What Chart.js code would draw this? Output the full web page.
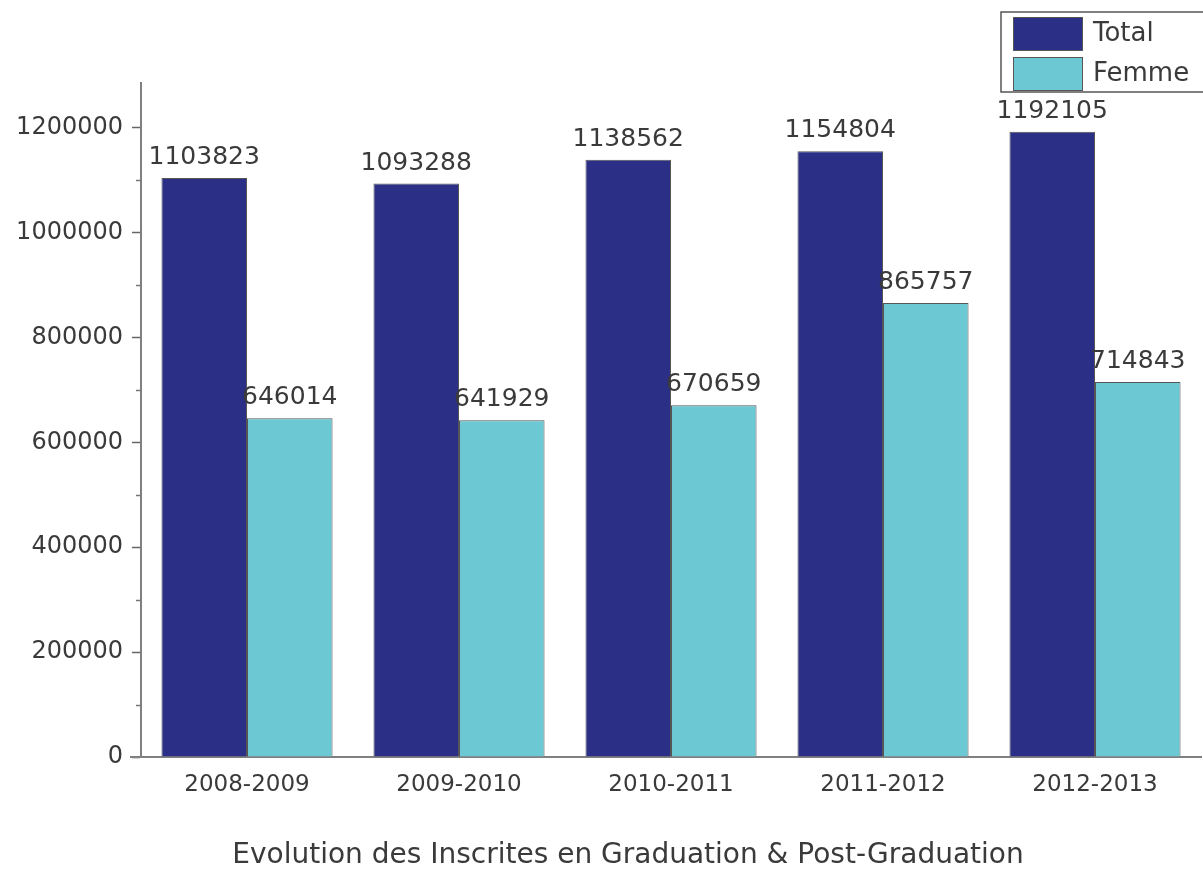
<!DOCTYPE html>
<html>
<head>
<meta charset="utf-8">
<script src="https://cdn.jsdelivr.net/npm/chart.js@4"></script>
<style>
  html, body { margin: 0; padding: 0; background: #fff; }
  #wrap { width: 1203px; height: 870px; }
</style>
</head>
<body>
<div id="wrap"><canvas id="myChart" width="1203" height="870"></canvas></div>
<script>
var years = ['2008-2009', '2009-2010', '2010-2011', '2011-2012', '2012-2013'];
var totalValues = [1103823, 1093288, 1138562, 1154804, 1192105];
var femmeValues = [646014, 641929, 670659, 865757, 714843];
var yTicks = [0, 200000, 400000, 600000, 800000, 1000000, 1200000];
var xTitle = 'Evolution des Inscrites en Graduation & Post-Graduation';

var FONT = '"DejaVu Sans", sans-serif';
var TEXT = '#3a3a3a';

// value labels above bars, minor ticks, legend box, bottom title
var extras = {
  id: 'extras',
  afterDatasetsDraw: function (chart) {
    var ctx = chart.ctx;
    ctx.save();
    ctx.font = '25px ' + FONT;
    ctx.fillStyle = TEXT;
    ctx.textAlign = 'center';
    ctx.textBaseline = 'alphabetic';
    chart.data.datasets.forEach(function (ds, i) {
      chart.getDatasetMeta(i).data.forEach(function (bar, j) {
        ctx.fillText(String(ds.data[j]), bar.x, bar.y - 14);
      });
    });

    // minor ticks every 100000
    var y = chart.scales.y;
    ctx.strokeStyle = '#777';
    ctx.lineWidth = 1.5;
    for (var v = 100000; v < 1300000; v += 200000) {
      var py = Math.round(y.getPixelForValue(v)) + 0.5;
      ctx.beginPath();
      ctx.moveTo(y.right - 5, py);
      ctx.lineTo(y.right, py);
      ctx.stroke();
    }
    // x axis line runs a little left of the y axis
    var x = chart.scales.x;
    ctx.strokeStyle = '#808080';
    ctx.lineWidth = 2;
    ctx.beginPath();
    ctx.moveTo(130, x.top);
    ctx.lineTo(x.left, x.top);
    ctx.stroke();

    // legend
    ctx.fillStyle = '#fff';
    ctx.fillRect(1001, 12, 202, 80);
    ctx.strokeStyle = '#555';
    ctx.lineWidth = 1.5;
    ctx.strokeRect(1001, 12, 204, 80);
    chart.data.datasets.forEach(function (ds, i) {
      var top = 17 + i * 40;
      ctx.fillStyle = ds.backgroundColor;
      ctx.fillRect(1013, top, 69, 33);
      ctx.strokeStyle = '#555';
      ctx.lineWidth = 1;
      ctx.strokeRect(1013.5, top + 0.5, 69, 33);
      ctx.fillStyle = TEXT;
      ctx.font = '26px ' + FONT;
      ctx.textAlign = 'left';
      ctx.textBaseline = 'middle';
      ctx.fillText(ds.label, 1093, top + 17);
    });

    // bottom title
    ctx.fillStyle = TEXT;
    ctx.font = '28px ' + FONT;
    ctx.textAlign = 'center';
    ctx.textBaseline = 'middle';
    ctx.fillText(xTitle, 628, 856);
    ctx.restore();
  }
};

var ctx = document.getElementById('myChart').getContext('2d');
var myChart = new Chart(ctx, {
  type: 'bar',
  data: {
    labels: years,
    datasets: [{
      label: 'Total',
      data: totalValues,
      backgroundColor: '#2B2F85',
      borderColor: '#555',
      borderWidth: 1,
      categoryPercentage: 0.807,
      barPercentage: 1.0
    }, {
      label: 'Femme',
      data: femmeValues,
      backgroundColor: '#6CC9D4',
      borderColor: '#555',
      borderWidth: 1,
      categoryPercentage: 0.807,
      barPercentage: 1.0
    }]
  },
  options: {
    responsive: false,
    animation: false,
    layout: { padding: { top: 83, right: 2, left: 0, bottom: 0 } },
    plugins: {
      legend: { display: false },
      tooltip: { enabled: false }
    },
    scales: {
      x: {
        grid: { display: false, drawTicks: false },
        border: { display: true, color: '#808080', width: 2 },
        ticks: { color: TEXT, font: { family: FONT, size: 23 }, padding: 14 },
        afterFit: function (scale) { scale.height = 113; }
      },
      y: {
        min: 0,
        max: 1285000,
        afterBuildTicks: function (scale) {
          scale.ticks = yTicks.map(function (v) { return { value: v }; });
        },
        grid: { drawOnChartArea: false, drawTicks: true, tickLength: 9, tickColor: '#666', tickWidth: 1.5 },
        border: { display: true, color: '#808080', width: 2 },
        ticks: {
          color: TEXT,
          font: { family: FONT, size: 24 },
          padding: 9,
          callback: function (v) { return String(v); }
        },
        afterFit: function (scale) { scale.width = 141; }
      }
    }
  },
  plugins: [extras]
});
</script>
</body>
</html>
